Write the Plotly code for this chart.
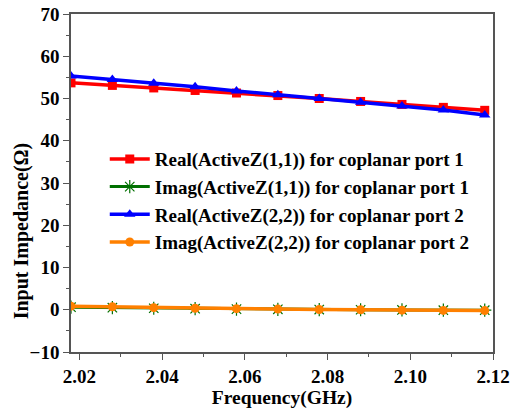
import plotly.graph_objects as go

freq = [2.018, 2.028, 2.038, 2.048, 2.058, 2.068, 2.078, 2.088, 2.098, 2.108, 2.118]
real11 = [53.7, 53.1, 52.5, 51.9, 51.3, 50.7, 50.0, 49.3, 48.6, 47.9, 47.2]
imag11 = [0.6, 0.5, 0.35, 0.25, 0.15, 0.1, 0.05, 0.0, -0.05, -0.1, -0.1]
real22 = [55.3, 54.5, 53.6, 52.8, 51.8, 50.9, 50.0, 49.1, 48.2, 47.3, 46.1]
imag22 = [0.85, 0.7, 0.5, 0.35, 0.25, 0.15, 0.05, 0.0, -0.1, -0.15, -0.2]
xticks = [2.02, 2.04, 2.06, 2.08, 2.10, 2.12]
xticklabels = ["2.02", "2.04", "2.06", "2.08", "2.10", "2.12"]

names = ["Real(ActiveZ(1,1)) for coplanar port 1",
         "Imag(ActiveZ(1,1)) for coplanar port 1",
         "Real(ActiveZ(2,2)) for coplanar port 2",
         "Imag(ActiveZ(2,2)) for coplanar port 2"]

FONT = "Times New Roman, Liberation Serif, serif"

fig = go.Figure()
fig.add_trace(go.Scatter(x=freq, y=real11, name=names[0], mode="lines+markers",
                         line=dict(color="#ff0000", width=3.5),
                         marker=dict(symbol="square", size=9, color="#ff0000")))
fig.add_trace(go.Scatter(x=freq, y=imag11, name=names[1], mode="lines+markers",
                         line=dict(color="#007000", width=3),
                         marker=dict(symbol="asterisk-open", size=11,
                                     line=dict(color="#007000", width=1.2))))
fig.add_trace(go.Scatter(x=freq, y=real22, name=names[2], mode="lines+markers",
                         line=dict(color="#0000ff", width=3.5),
                         marker=dict(symbol="triangle-up", size=10, color="#0000ff")))
fig.add_trace(go.Scatter(x=freq, y=imag22, name=names[3], mode="lines+markers",
                         line=dict(color="#ff8000", width=3.5),
                         marker=dict(symbol="circle", size=9, color="#ff8000")))

axis_common = dict(showline=True, linecolor="#555555", linewidth=1.5, mirror=True,
                   ticks="outside", ticklen=6, tickwidth=1.2, tickcolor="#555555",
                   showgrid=False, zeroline=False, automargin=False,
                   tickfont=dict(family=FONT, size=19, color="black", weight="bold"))

fig.update_xaxes(range=[2.018, 2.12], tickvals=xticks, ticktext=xticklabels,
                 minor=dict(ticks="outside", ticklen=3, dtick=0.01, tick0=2.0,
                            tickcolor="#555555"),
                 title=dict(text="Frequency(GHz)", standoff=2,
                            font=dict(family=FONT, size=19.5, color="black", weight="bold")),
                 **axis_common)
fig.update_yaxes(range=[-10, 70], dtick=10, tick0=0,
                 minor=dict(ticks="outside", ticklen=3, dtick=5, tickcolor="#555555"),
                 **axis_common)

fig.add_annotation(text="Input Impedance(Ω)", xref="paper", yref="paper",
                   x=-0.1185, y=0.36, xanchor="center", yanchor="middle",
                   textangle=-90, showarrow=False,
                   font=dict(family=FONT, size=20, color="black", weight="bold"))

fig.update_layout(
    width=520, height=410,
    margin=dict(l=71, r=27, t=14, b=58),
    plot_bgcolor="white", paper_bgcolor="white",
    legend=dict(x=0.08, y=0.627, xanchor="left", yanchor="top",
                bgcolor="rgba(0,0,0,0)", tracegroupgap=0, itemwidth=40,
                font=dict(family=FONT, size=19, color="black", weight="bold")),
)

fig.write_html("out.html", config={"displayModeBar": False},
               post_script="document.body.style.margin='0';document.body.style.overflow='hidden';")
